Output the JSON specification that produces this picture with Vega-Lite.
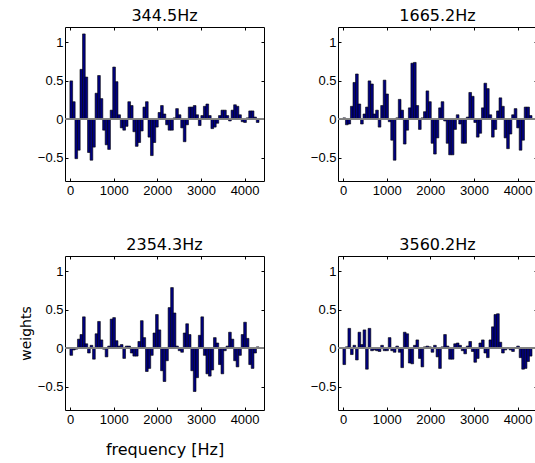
{
  "$schema": "https://vega.github.io/schema/vega-lite/v6.json",
  "padding": {"left": 19, "top": 7, "right": 5, "bottom": 5},
  "data": {"values": [
    {"f":29,"a":0.5,"b":0.02,"c":-0.09,"d":-0.21},
    {"f":87,"a":0.23,"b":-0.07,"c":-0.02,"d":0.02},
    {"f":144,"a":-0.51,"b":-0.06,"c":-0.01,"d":0.26},
    {"f":202,"a":-0.4,"b":0.17,"c":0.12,"d":-0.08},
    {"f":260,"a":0.65,"b":0.48,"c":0.18,"d":0.04},
    {"f":318,"a":1.11,"b":0.59,"c":0.41,"d":-0.15},
    {"f":375,"a":0.55,"b":0.2,"c":0.06,"d":0.21},
    {"f":433,"a":-0.43,"b":-0.06,"c":-0.06,"d":0.05},
    {"f":491,"a":-0.53,"b":0.07,"c":0.04,"d":0.24},
    {"f":548,"a":-0.36,"b":0.16,"c":-0.14,"d":-0.27},
    {"f":606,"a":0.34,"b":0.5,"c":0.19,"d":0.26},
    {"f":664,"a":0.57,"b":0.46,"c":0.35,"d":-0.03},
    {"f":721,"a":0.27,"b":0.07,"c":0.11,"d":-0.02},
    {"f":779,"a":-0.14,"b":0.12,"c":-0.01,"d":-0.03},
    {"f":837,"a":-0.33,"b":-0.1,"c":-0.11,"d":-0.04},
    {"f":895,"a":-0.39,"b":0.18,"c":0.03,"d":0.04},
    {"f":952,"a":0.12,"b":0.51,"c":0.38,"d":-0.03},
    {"f":1010,"a":0.68,"b":0.33,"c":0.4,"d":-0.03},
    {"f":1068,"a":0.49,"b":-0.03,"c":0.1,"d":0.14},
    {"f":1125,"a":0.06,"b":-0.27,"c":0.03,"d":-0.03},
    {"f":1183,"a":-0.11,"b":-0.53,"c":0.05,"d":-0.05},
    {"f":1241,"a":-0.14,"b":0.02,"c":-0.13,"d":0.03},
    {"f":1298,"a":-0.09,"b":0.26,"c":0.03,"d":-0.05},
    {"f":1356,"a":0.23,"b":0.12,"c":0.03,"d":-0.25},
    {"f":1414,"a":0.18,"b":-0.32,"c":-0.06,"d":0.21},
    {"f":1472,"a":-0.16,"b":-0.14,"c":-0.1,"d":0.19},
    {"f":1529,"a":-0.35,"b":0.15,"c":-0.1,"d":-0.19},
    {"f":1587,"a":-0.3,"b":0.73,"c":0.09,"d":-0.2},
    {"f":1645,"a":-0.15,"b":0.74,"c":0.36,"d":0.04},
    {"f":1702,"a":0.16,"b":0.18,"c":0.14,"d":0.11},
    {"f":1760,"a":0.23,"b":-0.13,"c":-0.3,"d":-0.13},
    {"f":1818,"a":-0.23,"b":0.02,"c":-0.26,"d":-0.24},
    {"f":1875,"a":-0.47,"b":0.1,"c":-0.09,"d":0.02},
    {"f":1933,"a":-0.3,"b":0.37,"c":0.2,"d":0.03},
    {"f":1991,"a":-0.1,"b":0.23,"c":0.44,"d":0.02},
    {"f":2049,"a":0.09,"b":-0.31,"c":0.24,"d":-0.05},
    {"f":2106,"a":0.18,"b":-0.45,"c":-0.29,"d":0.04},
    {"f":2164,"a":0.07,"b":-0.24,"c":-0.43,"d":-0.11},
    {"f":2222,"a":-0.07,"b":0.15,"c":-0.16,"d":-0.26},
    {"f":2279,"a":-0.14,"b":0.23,"c":0.53,"d":0.02},
    {"f":2337,"a":-0.14,"b":-0.02,"c":0.79,"d":0.18},
    {"f":2395,"a":0.02,"b":-0.31,"c":0.46,"d":0.03},
    {"f":2452,"a":0.14,"b":-0.46,"c":0.03,"d":-0.14},
    {"f":2510,"a":0.06,"b":-0.46,"c":-0.03,"d":-0.14},
    {"f":2568,"a":-0.11,"b":-0.13,"c":-0.05,"d":0.06},
    {"f":2626,"a":-0.29,"b":0.06,"c":0.2,"d":0.07},
    {"f":2683,"a":-0.07,"b":-0.06,"c":0.32,"d":0.04},
    {"f":2741,"a":0.16,"b":-0.31,"c":0.18,"d":-0.03},
    {"f":2799,"a":0.16,"b":-0.31,"c":-0.29,"d":-0.07},
    {"f":2856,"a":0.18,"b":0.03,"c":-0.56,"d":0.03},
    {"f":2914,"a":0.06,"b":0.35,"c":-0.38,"d":0.09},
    {"f":2972,"a":-0.08,"b":0.3,"c":0.17,"d":-0.04},
    {"f":3029,"a":0.05,"b":-0.04,"c":0.41,"d":-0.18},
    {"f":3087,"a":0.17,"b":-0.23,"c":-0.09,"d":-0.13},
    {"f":3145,"a":0.2,"b":-0.18,"c":-0.33,"d":0.07},
    {"f":3203,"a":0.05,"b":0.15,"c":-0.36,"d":0.11},
    {"f":3260,"a":-0.12,"b":0.47,"c":-0.28,"d":-0.06},
    {"f":3318,"a":-0.1,"b":0.4,"c":0.14,"d":-0.12},
    {"f":3376,"a":-0.05,"b":0.06,"c":0.07,"d":0.11},
    {"f":3433,"a":0.05,"b":-0.23,"c":-0.21,"d":0.28},
    {"f":3491,"a":0.12,"b":-0.13,"c":-0.33,"d":0.44},
    {"f":3549,"a":0.12,"b":0.11,"c":-0.03,"d":0.45},
    {"f":3606,"a":0.05,"b":0.28,"c":0.03,"d":0.08},
    {"f":3664,"a":-0.02,"b":0.17,"c":0.21,"d":-0.06},
    {"f":3722,"a":0.12,"b":-0.24,"c":0.12,"d":-0.02},
    {"f":3780,"a":0.19,"b":-0.38,"c":-0.16,"d":0.01},
    {"f":3837,"a":0.17,"b":-0.19,"c":-0.24,"d":-0.02},
    {"f":3895,"a":0.06,"b":0.06,"c":-0.09,"d":-0.04},
    {"f":3953,"a":-0.03,"b":0.14,"c":0.18,"d":0.01},
    {"f":4010,"a":-0.04,"b":-0.11,"c":0.34,"d":0.03},
    {"f":4068,"a":0.02,"b":-0.4,"c":0.13,"d":-0.12},
    {"f":4126,"a":0.11,"b":-0.27,"c":-0.21,"d":-0.27},
    {"f":4183,"a":0.11,"b":0.16,"c":-0.26,"d":-0.26},
    {"f":4241,"a":0.03,"b":0.16,"c":-0.06,"d":-0.17},
    {"f":4299,"a":-0.04,"b":0.05,"c":0.02,"d":-0.1}
  ]},
  "columns": 2,
  "spacing": {"row": 75, "column": 74},
  "bounds": "flush",
  "concat": [
    {
      "title": "344.5Hz", "width": 199, "height": 154,
      "layer": [
        {"mark": {"type": "bar", "size": 2.7, "fill": "#000080", "stroke": "#000000", "strokeWidth": 0.6},
         "encoding": {
           "x": {"field": "f", "type": "quantitative", "scale": {"domain": [0, 4330], "nice": false, "zero": false}, "axis": {"values": [0,1000,2000,3000,4000], "format": "d", "title": null}},
           "y": {"field": "a", "type": "quantitative", "scale": {"domain": [-0.8, 1.2], "nice": false}, "axis": {"values": [-0.5,0,0.5,1], "format": "~g", "title": null}}}},
        {"mark": {"type": "rule", "color": "#808080", "strokeWidth": 1},
         "encoding": {"y": {"datum": 0, "type": "quantitative", "axis": null}}},
        {"mark": {"type": "point", "opacity": 0},
         "encoding": {
           "x": {"field": "f", "type": "quantitative", "axis": {"orient": "top", "values": [0,1000,2000,3000,4000], "labels": false, "title": null}},
           "y": {"field": "a", "type": "quantitative", "axis": {"orient": "right", "values": [-0.5,0,0.5,1], "labels": false, "title": null}}}}
      ],
      "resolve": {"axis": {"x": "independent", "y": "independent"}}
    },
    {
      "title": "1665.2Hz", "width": 199, "height": 154,
      "layer": [
        {"mark": {"type": "bar", "size": 2.7, "fill": "#000080", "stroke": "#000000", "strokeWidth": 0.6},
         "encoding": {
           "x": {"field": "f", "type": "quantitative", "scale": {"domain": [0, 4330], "nice": false, "zero": false}, "axis": {"values": [0,1000,2000,3000,4000], "format": "d", "title": null}},
           "y": {"field": "b", "type": "quantitative", "scale": {"domain": [-0.8, 1.2], "nice": false}, "axis": {"values": [-0.5,0,0.5,1], "format": "~g", "title": null}}}},
        {"mark": {"type": "rule", "color": "#808080", "strokeWidth": 1},
         "encoding": {"y": {"datum": 0, "type": "quantitative", "axis": null}}},
        {"mark": {"type": "point", "opacity": 0},
         "encoding": {
           "x": {"field": "f", "type": "quantitative", "axis": {"orient": "top", "values": [0,1000,2000,3000,4000], "labels": false, "title": null}},
           "y": {"field": "b", "type": "quantitative", "axis": {"orient": "right", "values": [-0.5,0,0.5,1], "labels": false, "title": null}}}}
      ],
      "resolve": {"axis": {"x": "independent", "y": "independent"}}
    },
    {
      "title": "2354.3Hz", "width": 199, "height": 154,
      "layer": [
        {"mark": {"type": "bar", "size": 2.7, "fill": "#000080", "stroke": "#000000", "strokeWidth": 0.6},
         "encoding": {
           "x": {"field": "f", "type": "quantitative", "scale": {"domain": [0, 4330], "nice": false, "zero": false}, "axis": {"values": [0,1000,2000,3000,4000], "format": "d", "title": "frequency [Hz]"}},
           "y": {"field": "c", "type": "quantitative", "scale": {"domain": [-0.8, 1.2], "nice": false}, "axis": {"values": [-0.5,0,0.5,1], "format": "~g", "title": "weights", "titleFontSize": 14}}}},
        {"mark": {"type": "rule", "color": "#808080", "strokeWidth": 1},
         "encoding": {"y": {"datum": 0, "type": "quantitative", "axis": null}}},
        {"mark": {"type": "point", "opacity": 0},
         "encoding": {
           "x": {"field": "f", "type": "quantitative", "axis": {"orient": "top", "values": [0,1000,2000,3000,4000], "labels": false, "title": null}},
           "y": {"field": "c", "type": "quantitative", "axis": {"orient": "right", "values": [-0.5,0,0.5,1], "labels": false, "title": null}}}}
      ],
      "resolve": {"axis": {"x": "independent", "y": "independent"}}
    },
    {
      "title": "3560.2Hz", "width": 199, "height": 154,
      "layer": [
        {"mark": {"type": "bar", "size": 2.7, "fill": "#000080", "stroke": "#000000", "strokeWidth": 0.6},
         "encoding": {
           "x": {"field": "f", "type": "quantitative", "scale": {"domain": [0, 4330], "nice": false, "zero": false}, "axis": {"values": [0,1000,2000,3000,4000], "format": "d", "title": null}},
           "y": {"field": "d", "type": "quantitative", "scale": {"domain": [-0.8, 1.2], "nice": false}, "axis": {"values": [-0.5,0,0.5,1], "format": "~g", "title": null}}}},
        {"mark": {"type": "rule", "color": "#808080", "strokeWidth": 1},
         "encoding": {"y": {"datum": 0, "type": "quantitative", "axis": null}}},
        {"mark": {"type": "point", "opacity": 0},
         "encoding": {
           "x": {"field": "f", "type": "quantitative", "axis": {"orient": "top", "values": [0,1000,2000,3000,4000], "labels": false, "title": null}},
           "y": {"field": "d", "type": "quantitative", "axis": {"orient": "right", "values": [-0.5,0,0.5,1], "labels": false, "title": null}}}}
      ],
      "resolve": {"axis": {"x": "independent", "y": "independent"}}
    }
  ],
  "config": {
    "view": {"stroke": null},
    "axis": {"domainColor": "#000000", "domainWidth": 1, "tickColor": "#000000", "tickSize": -3, "tickWidth": 1, "grid": false,
             "labelFont": "Liberation Sans", "labelFontSize": 13, "labelColor": "#000000",
             "titleFont": "DejaVu Sans", "titleFontSize": 16, "titleFontWeight": "normal", "titleColor": "#000000"},
    "axisX": {"labelPadding": 6, "titlePadding": 15},
    "axisY": {"labelPadding": 5, "titlePadding": 4},
    "title": {"font": "DejaVu Sans", "fontSize": 16, "fontWeight": "normal", "color": "#000000", "offset": 3}
  }
}
